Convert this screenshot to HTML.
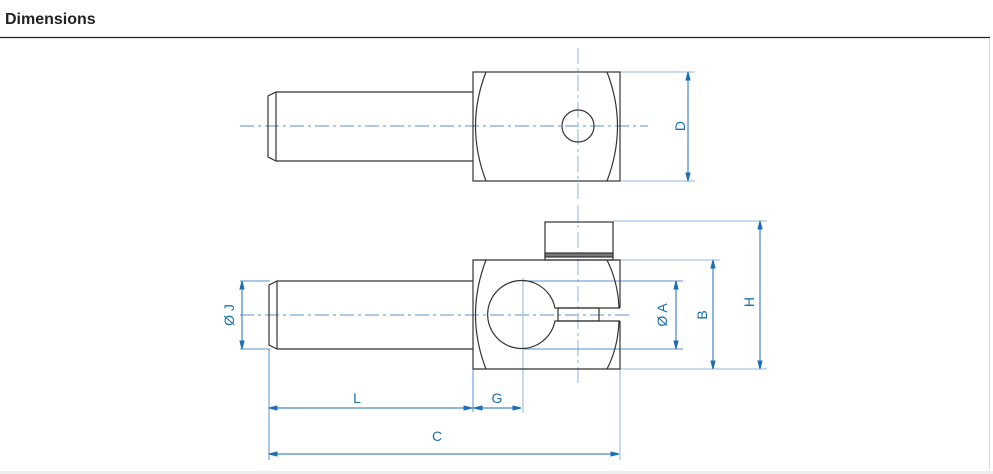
<!DOCTYPE html>
<html><head><meta charset="utf-8"><style>
html,body{margin:0;padding:0;background:#fff;width:993px;height:474px;overflow:hidden;font-family:"Liberation Sans",sans-serif}
</style></head><body>
<svg width="993" height="474" viewBox="0 0 993 474" xmlns="http://www.w3.org/2000/svg" style="position:absolute;left:0;top:0">
<text x="5" y="24" font-family="Liberation Sans, sans-serif" font-weight="bold" font-size="16" fill="#222">Dimensions</text>
<line x1="0" y1="37.5" x2="990" y2="37.5" stroke="#222" stroke-width="1.2"/>
<line x1="989.5" y1="38" x2="989.5" y2="470" stroke="#ddd" stroke-width="1"/>
<rect x="0" y="471" width="993" height="3" fill="#eee"/>

<g stroke="#a9c6e3" stroke-width="1.3" fill="none">
<line x1="240" y1="126" x2="648" y2="126" stroke-dasharray="14,4,3,4" stroke="#7fa8d4"/>
<line x1="578" y1="48" x2="578" y2="200" stroke-dasharray="16,4,3,4"/>
<line x1="620" y1="72" x2="695" y2="72"/>
<line x1="620" y1="181" x2="695" y2="181"/>
<line x1="240" y1="315" x2="630" y2="315" stroke-dasharray="14,4,3,4" stroke="#7fa8d4"/>
<line x1="578" y1="205" x2="578" y2="385" stroke-dasharray="16,4,3,4"/>
<line x1="523" y1="278" x2="523" y2="413"/>
<line x1="613" y1="221" x2="767" y2="221"/>
<line x1="620" y1="260" x2="720" y2="260"/>
<line x1="620" y1="369" x2="767" y2="369"/>
<line x1="620" y1="369" x2="620" y2="460"/>
</g>
<g stroke="#5b8fc8" stroke-width="1" fill="none">
<line x1="240" y1="281" x2="270" y2="281"/>
<line x1="240" y1="349" x2="270" y2="349"/>
<line x1="523" y1="281" x2="683" y2="281"/>
<line x1="523" y1="349" x2="683" y2="349"/>
<line x1="269" y1="349" x2="269" y2="460"/>
<line x1="473" y1="369" x2="473" y2="412"/>
</g>
<g stroke="#1a6fb5" stroke-width="1" fill="#1a6fb5">
<line x1="688" y1="72" x2="688" y2="181"/>
<polygon points="688,72 686,80 690,80"/><polygon points="688,181 686,173 690,173"/>
<line x1="242" y1="281" x2="242" y2="349"/>
<polygon points="242,281 240,289 244,289"/><polygon points="242,349 240,341 244,341"/>
<line x1="676" y1="281" x2="676" y2="349"/>
<polygon points="676,281 674,289 678,289"/><polygon points="676,349 674,341 678,341"/>
<line x1="713" y1="260" x2="713" y2="369"/>
<polygon points="713,260 711,268 715,268"/><polygon points="713,369 711,361 715,361"/>
<line x1="760" y1="221" x2="760" y2="369"/>
<polygon points="760,221 758,229 762,229"/><polygon points="760,369 758,361 762,361"/>
<line x1="269" y1="408" x2="521" y2="408"/>
<polygon points="269,408 277,406 277,410"/><polygon points="472,408 464,406 464,410"/>
<polygon points="474,408 482,406 482,410"/><polygon points="521,408 513,406 513,410"/>
<line x1="269" y1="454" x2="619" y2="454"/>
<polygon points="269,454 277,452 277,456"/><polygon points="619,454 611,452 611,456"/>
</g>
<g font-family="Liberation Sans, sans-serif" font-size="14" fill="#1a6fb5" text-anchor="middle">
<text x="357" y="403">L</text>
<text x="497" y="403">G</text>
<text x="437" y="441">C</text>
<text transform="translate(685,126) rotate(-90)">D</text>
<text transform="translate(234,315) rotate(-90)">Ø J</text>
<text transform="translate(667,315) rotate(-90)">Ø A</text>
<text transform="translate(707,315) rotate(-90)">B</text>
<text transform="translate(754,302) rotate(-90)">H</text>
</g>
<g stroke="#333" stroke-width="1.2" fill="none">
<path d="M473,92 L276,92 L268,96 L268,157 L276,161 L473,161"/>
<line x1="276" y1="92" x2="276" y2="161"/>
<rect x="473" y="72" width="147" height="109"/>
<path d="M486,72 Q465,126 486,181"/>
<path d="M607,72 Q628,126 607,181"/>
<circle cx="578" cy="126" r="16"/>
<path d="M473,281 L277,281 L269,285 L269,345 L277,349 L473,349"/>
<line x1="277" y1="281" x2="277" y2="349"/>
<rect x="545" y="222" width="68" height="38"/>
<rect x="545" y="253" width="68" height="4" fill="#777"/>
<path d="M620,308 L620,260 L473,260 L473,369 L620,369 L620,321"/>
<path d="M486,260 Q465,315 486,369"/>
<path d="M607,260 Q618,282 619,308"/>
<path d="M619,321 Q618,348 607,369"/>
<path d="M620,308 L555,308 A34,34 0 1 0 555,321 L620,321"/>
<rect x="558" y="308" width="41" height="13"/>
</g>
</svg>
</body></html>
